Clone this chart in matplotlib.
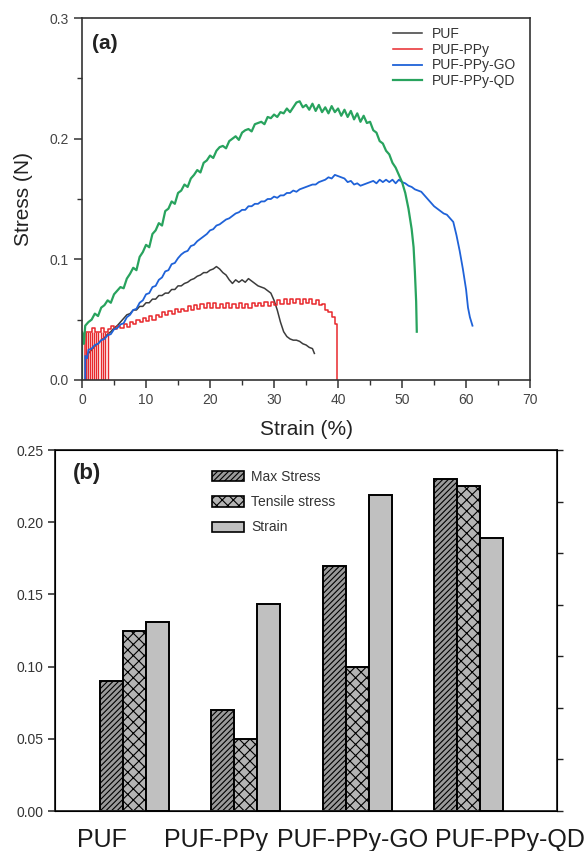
import numpy as np
import matplotlib
matplotlib.use('Agg')
import matplotlib.pyplot as plt
from matplotlib.patches import Patch

plt.rcParams['font.family'] = ['Liberation Sans', 'DejaVu Sans']
plt.rcParams['hatch.linewidth'] = 0.8

# ---- panel (a): stress-strain curves (strain %, stress N) ----
puf_strain = [0.7, 0.7, 1.0, 1.5, 2.0, 2.5, 3.0, 3.5, 4.0, 4.5, 5.0, 5.5, 6.0, 6.5, 7.0, 7.5, 8.0, 8.5,
              9.0, 9.5, 10.0, 10.5, 11.0, 11.5, 12.0, 12.5, 13.0, 13.5, 14.0, 14.5, 15.0, 15.5, 16.0,
              16.5, 17.0, 17.5, 18.0, 18.5, 19.0, 19.5, 20.0, 20.5, 21.0, 21.5, 22.0, 22.5, 23.0, 23.5,
              24.0, 24.5, 25.0, 25.5, 26.0, 26.5, 27.0, 27.5, 28.0, 28.5, 29.0, 29.5, 30.0, 30.5, 31.0,
              31.5, 32.0, 32.5, 33.0, 33.5, 34.0, 34.5, 35.0, 35.5, 36.0, 36.3]
puf_stress = [0.0, 0.020, 0.022, 0.025, 0.028, 0.030, 0.033, 0.035, 0.038, 0.040, 0.043, 0.045, 0.048,
              0.051, 0.054, 0.055, 0.058, 0.058, 0.061, 0.061, 0.064, 0.064, 0.067, 0.067, 0.070, 0.070,
              0.072, 0.072, 0.075, 0.075, 0.078, 0.078, 0.080, 0.081, 0.083, 0.084, 0.086, 0.087, 0.089,
              0.089, 0.091, 0.092, 0.094, 0.092, 0.089, 0.087, 0.083, 0.080, 0.083, 0.081, 0.083, 0.081,
              0.084, 0.082, 0.080, 0.078, 0.077, 0.076, 0.074, 0.072, 0.066, 0.058, 0.048, 0.040, 0.036,
              0.034, 0.033, 0.033, 0.032, 0.030, 0.029, 0.027, 0.026, 0.022]

ppy_strain = [0.5, 0.5, 1.0, 1.5, 2.0, 2.5, 3.0, 3.5, 4.0, 4.5, 5.0, 5.5, 6.0, 6.5, 7.0, 7.5, 8.0, 8.5,
              9.0, 9.5, 10.0, 10.5, 11.0, 11.5, 12.0, 12.5, 13.0, 13.5, 14.0, 14.5, 15.0, 15.5, 16.0,
              16.5, 17.0, 17.5, 18.0, 18.5, 19.0, 19.5, 20.0, 20.5, 21.0, 21.5, 22.0, 22.5, 23.0, 23.5,
              24.0, 24.5, 25.0, 25.5, 26.0, 26.5, 27.0, 27.5, 28.0, 28.5, 29.0, 29.5, 30.0, 30.5, 31.0,
              31.5, 32.0, 32.5, 33.0, 33.5, 34.0, 34.5, 35.0, 35.5, 36.0, 36.5, 37.0, 37.5, 38.0, 38.5,
              39.0, 39.5, 39.8, 39.8]
ppy_stress = [0.0, 0.040, 0.040, 0.043, 0.040, 0.040, 0.043, 0.040, 0.042, 0.045, 0.042, 0.045, 0.043,
              0.046, 0.044, 0.048, 0.046, 0.050, 0.048, 0.051, 0.049, 0.053, 0.050, 0.054, 0.052, 0.056,
              0.054, 0.057, 0.055, 0.059, 0.056, 0.059, 0.057, 0.061, 0.058, 0.062, 0.059, 0.063, 0.060,
              0.064, 0.060, 0.064, 0.060, 0.063, 0.060, 0.064, 0.060, 0.063, 0.060, 0.064, 0.060, 0.063,
              0.060, 0.064, 0.061, 0.064, 0.061, 0.065, 0.061, 0.065, 0.062, 0.066, 0.063, 0.067, 0.063,
              0.067, 0.064, 0.067, 0.063, 0.067, 0.064, 0.067, 0.063, 0.066, 0.062, 0.063, 0.058, 0.056,
              0.052, 0.046, 0.042, 0.0]
# spikes of the PUF-PPy trace near the origin
ppy_spikes = [0.6, 0.9, 1.2, 1.5, 1.8, 2.2, 2.5, 2.9, 3.3, 3.6, 4.1]

go_strain = [0.5, 0.5, 0.8, 1.0, 1.5, 2.0, 2.5, 3.0, 3.5, 4.0, 4.5, 5.0, 5.5, 6.0, 6.5, 7.0, 7.5, 8.0,
             8.5, 9.0, 9.5, 10.0, 10.5, 11.0, 11.5, 12.0, 12.5, 13.0, 13.5, 14.0, 14.5, 15.0, 15.5, 16.0,
             16.5, 17.0, 17.5, 18.0, 18.5, 19.0, 19.5, 20.0, 20.5, 21.0, 21.5, 22.0, 22.5, 23.0, 23.5,
             24.0, 24.5, 25.0, 25.5, 26.0, 26.5, 27.0, 27.5, 28.0, 28.5, 29.0, 29.5, 30.0, 30.5, 31.0,
             31.5, 32.0, 32.5, 33.0, 33.5, 34.0, 34.5, 35.0, 35.5, 36.0, 36.5, 37.0, 37.5, 38.0, 38.5,
             39.0, 39.5, 40.0, 40.5, 41.0, 41.5, 42.0, 42.5, 43.0, 43.5, 44.0, 44.5, 45.0, 45.5, 46.0,
             46.5, 47.0, 47.5, 48.0, 48.5, 49.0, 49.5, 50.0, 50.5, 51.0, 51.5, 52.0, 52.5, 53.0, 53.5,
             54.0, 54.5, 55.0, 55.5, 56.0, 56.5, 57.0, 57.5, 58.0, 58.5, 59.0, 59.5, 60.0, 60.3, 60.6, 61.0]
go_stress = [0.0, 0.020, 0.018, 0.025, 0.026, 0.029, 0.030, 0.033, 0.034, 0.037, 0.038, 0.042, 0.043,
             0.046, 0.047, 0.052, 0.054, 0.058, 0.059, 0.064, 0.066, 0.071, 0.072, 0.077, 0.078, 0.083,
             0.085, 0.090, 0.091, 0.096, 0.097, 0.101, 0.104, 0.106, 0.107, 0.111, 0.112, 0.115, 0.117,
             0.119, 0.121, 0.124, 0.125, 0.128, 0.129, 0.131, 0.133, 0.134, 0.136, 0.138, 0.139, 0.141,
             0.141, 0.144, 0.144, 0.146, 0.146, 0.148, 0.148, 0.150, 0.150, 0.152, 0.151, 0.153, 0.153,
             0.155, 0.155, 0.157, 0.156, 0.158, 0.159, 0.160, 0.161, 0.162, 0.162, 0.164, 0.165, 0.166,
             0.168, 0.167, 0.170, 0.169, 0.168, 0.167, 0.164, 0.165, 0.162, 0.163, 0.161, 0.162, 0.163,
             0.164, 0.165, 0.163, 0.166, 0.164, 0.166, 0.164, 0.166, 0.163, 0.166, 0.164, 0.163, 0.161,
             0.160, 0.158, 0.157, 0.156, 0.153, 0.150, 0.147, 0.144, 0.142, 0.140, 0.138, 0.137, 0.134,
             0.131, 0.120, 0.107, 0.092, 0.075, 0.060, 0.052, 0.045]

qd_strain = [0.0, 0.0, 0.3, 0.5, 1.0, 1.5, 2.0, 2.5, 3.0, 3.5, 4.0, 4.5, 5.0, 5.5, 6.0, 6.5, 7.0, 7.5, 8.0,
             8.5, 9.0, 9.5, 10.0, 10.5, 11.0, 11.5, 12.0, 12.5, 13.0, 13.5, 14.0, 14.5, 15.0, 15.5, 16.0,
             16.5, 17.0, 17.5, 18.0, 18.5, 19.0, 19.5, 20.0, 20.5, 21.0, 21.5, 22.0, 22.5, 23.0, 23.5,
             24.0, 24.5, 25.0, 25.5, 26.0, 26.5, 27.0, 27.5, 28.0, 28.5, 29.0, 29.5, 30.0, 30.5, 31.0,
             31.5, 32.0, 32.5, 33.0, 33.5, 34.0, 34.5, 35.0, 35.5, 36.0, 36.5, 37.0, 37.5, 38.0, 38.5,
             39.0, 39.5, 40.0, 40.5, 41.0, 41.5, 42.0, 42.5, 43.0, 43.5, 44.0, 44.5, 45.0, 45.5, 46.0,
             46.5, 47.0, 47.5, 48.0, 48.5, 49.0, 49.5, 50.0, 50.5, 51.0, 51.5, 51.8, 52.0, 52.2, 52.3]
qd_stress = [0.0, 0.040, 0.030, 0.045, 0.048, 0.050, 0.055, 0.053, 0.060, 0.062, 0.066, 0.064, 0.071,
             0.074, 0.077, 0.076, 0.084, 0.088, 0.093, 0.091, 0.102, 0.106, 0.112, 0.110, 0.121, 0.124,
             0.130, 0.128, 0.140, 0.142, 0.148, 0.146, 0.155, 0.157, 0.162, 0.160, 0.167, 0.170, 0.174,
             0.172, 0.180, 0.182, 0.186, 0.184, 0.190, 0.193, 0.194, 0.192, 0.198, 0.200, 0.202, 0.199,
             0.205, 0.207, 0.208, 0.206, 0.212, 0.213, 0.214, 0.212, 0.218, 0.217, 0.220, 0.218, 0.222,
             0.221, 0.225, 0.222, 0.226, 0.230, 0.231, 0.226, 0.228, 0.224, 0.229, 0.223, 0.228, 0.222,
             0.226, 0.221, 0.227, 0.222, 0.225, 0.219, 0.224, 0.218, 0.223, 0.216, 0.221, 0.214, 0.219,
             0.213, 0.214, 0.207, 0.205, 0.198, 0.196, 0.190, 0.187, 0.180, 0.176, 0.170, 0.164, 0.155,
             0.142, 0.125, 0.110, 0.090, 0.065, 0.040]

# ---- panel (b): bar values ----
samples = ['PUF', 'PUF-PPy', 'PUF-PPy-GO', 'PUF-PPy-QD']
max_stress = [0.090, 0.070, 0.170, 0.230]
tensile_stress = [0.125, 0.050, 0.100, 0.225]
strain_pct = [36.6, 40.1, 61.3, 53.0]

fig = plt.figure(figsize=(5.88, 8.51), dpi=100)

# ---------------- panel (a) ----------------
ax = fig.add_axes([0.1395, 0.5535, 0.762, 0.4253])
ax.plot(puf_strain, puf_stress, color='#3c3c3c', lw=1.1, label='PUF')
ax.vlines(ppy_spikes, 0, 0.04, color='#e8282c', lw=1.0)
ax.plot(ppy_strain, ppy_stress, color='#e8282c', lw=1.1, drawstyle='steps-post', label='PUF-PPy')
ax.plot(go_strain, go_stress, color='#1f62d8', lw=1.3, label='PUF-PPy-GO')
ax.plot(qd_strain, qd_stress, color='#28a35e', lw=1.6, label='PUF-PPy-QD')

ax.set_xlim(0, 70)
ax.set_ylim(0, 0.3)
ax.set_xticks(range(0, 71, 10))
ax.set_xticks(range(5, 70, 10), minor=True)
ax.set_yticks([0.0, 0.1, 0.2, 0.3])
ax.set_yticks([0.05, 0.15, 0.25], minor=True)
ax.tick_params(which='both', direction='out', colors='#333333', labelcolor='#444444', labelsize=10)
ax.tick_params(which='major', length=6, width=1.1)
ax.tick_params(which='minor', length=3.5, width=1.0)
for sp in ax.spines.values():
    sp.set_color('#333333')
    sp.set_linewidth(1.2)
ax.set_xlabel('Strain (%)', fontsize=15, color='#222222', labelpad=9)
ax.set_ylabel('Stress (N)', fontsize=15, color='#222222', labelpad=12)
ax.text(0.022, 0.931, '(a)', transform=ax.transAxes, fontsize=15, fontweight='bold',
        va='center', ha='left', color='#222222')
ax.legend(loc='upper left', bbox_to_anchor=(0.694, 0.975), frameon=False, fontsize=10,
          handlelength=2.1, handletextpad=0.7, labelspacing=0.12, borderpad=0, borderaxespad=0,
          labelcolor='#333333')

# ---------------- panel (b) ----------------
bx = fig.add_axes([0.0935, 0.047, 0.854, 0.4242])
x = np.arange(1, len(samples) + 1)
w = 0.206
bx.bar(x - w, max_stress, w, facecolor='#9a9a9a', edgecolor='black', lw=1.4, hatch='//////')
bx.bar(x, tensile_stress, w, facecolor='#b4b4b4', edgecolor='black', lw=1.4, hatch='xxx')
bx.set_xlim(0.291, 4.793)
bx.set_ylim(0, 0.25)
bx.set_yticks([0.00, 0.05, 0.10, 0.15, 0.20, 0.25])
bx.set_yticklabels(['0.00', '0.05', '0.10', '0.15', '0.20', '0.25'])
bx.tick_params(axis='y', direction='out', length=5, width=1.1, labelsize=10,
               colors='#222222', labelcolor='#333333')
label_pos = [0.712, 1.735, 2.964, 4.372]
bx.set_xticks(label_pos)
bx.set_xticklabels(samples, fontsize=18, color='#1a1a1a')
bx.tick_params(axis='x', length=0, pad=12)
for sp in bx.spines.values():
    sp.set_color('#222222')
    sp.set_linewidth(1.3)
# the left axis title is cut off by the image edge in the original figure
bx.set_ylabel('Max Stress (MPa)', fontsize=15, color='#555555')
bx.yaxis.set_label_coords(-0.125, 0.5)
bx.text(0.036, 0.936, '(b)', transform=bx.transAxes, fontsize=16, fontweight='bold',
        va='center', ha='left', color='#222222')

bx2 = bx.twinx()
bx2.bar(x + w, strain_pct, w, facecolor='#c0c0c0', edgecolor='black', lw=1.4)
bx2.set_ylim(0, 70)
bx2.set_yticks(range(0, 71, 10))
bx2.tick_params(axis='y', direction='out', length=4, width=1.0, labelright=False, colors='#222222')

handles = [Patch(facecolor='#9a9a9a', edgecolor='black', hatch='//////', lw=1.2),
           Patch(facecolor='#b4b4b4', edgecolor='black', hatch='xxx', lw=1.2),
           Patch(facecolor='#c0c0c0', edgecolor='black', lw=1.2)]
bx2.legend(handles, ['Max Stress', 'Tensile stress', 'Strain'], loc='upper left',
           bbox_to_anchor=(0.313, 0.944), frameon=False, fontsize=10, handlelength=2.3,
           handleheight=0.75, handletextpad=0.5, labelspacing=0.8, borderpad=0, borderaxespad=0,
           labelcolor='#333333')

fig.savefig('out.png', dpi=100)
